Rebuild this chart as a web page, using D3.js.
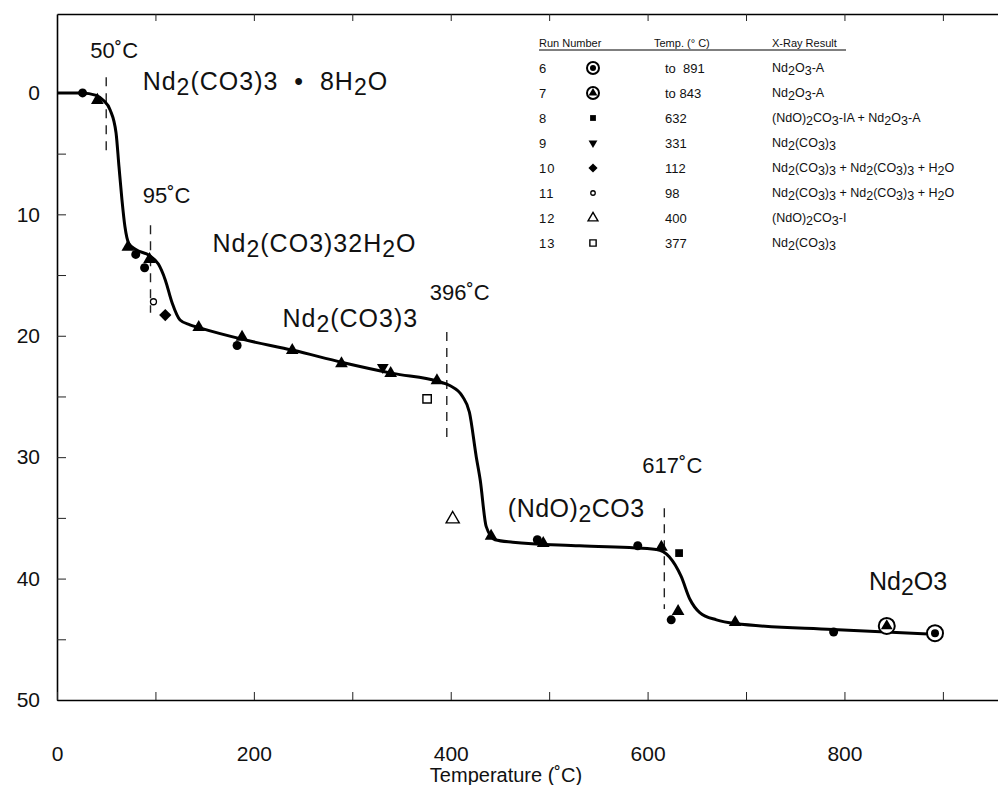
<!DOCTYPE html>
<html>
<head>
<meta charset="utf-8">
<script src="https://cdn.jsdelivr.net/npm/d3@7"></script>
<style>
  body { margin: 0; background: #fff; }
  svg text { font-family: "Liberation Sans", Arial, sans-serif; fill: #111; }
  .tick text { font-size: 21px; }
</style>
</head>
<body>
<svg></svg>
<script>
// weight loss vs temperature, Nd2(CO3)3 . 8H2O decomposition

const width = 998;
const height = 785;

// smooth curve through the readings
const curveTemp = [0, 25, 40, 47, 54, 60, 63, 66, 69, 73, 80, 94, 103, 110, 117, 125, 135, 145, 189, 240, 290, 341, 389, 399, 412, 419, 426, 430, 436, 445, 463, 531, 609, 622, 634, 643, 653, 670, 689, 788, 896];
const curveLoss = [0, 0, 0.2, 0.6, 1.4, 3.3, 6.1, 8.8, 11, 12.4, 12.9, 13.4, 14.1, 15.4, 17.3, 18.7, 19.1, 19.35, 20.3, 21.2, 22.2, 23.1, 23.8, 24.1, 25.0, 26.3, 30.0, 31.9, 35.7, 36.8, 37.0, 37.3, 37.6, 38.2, 39.8, 41.7, 42.8, 43.4, 43.7, 44.2, 44.6];

// measured points (continuous runs)
const circleTemp = [26, 80, 89, 183, 488, 590, 624, 789];
const circleLoss = [0, 13.3, 14.4, 20.8, 36.8, 37.3, 43.4, 44.4];
const triTemp = [41, 72, 94, 144, 188, 239, 289, 339, 386, 441, 494, 614, 631, 689];
const triLoss = [0.6, 12.7, 13.7, 19.3, 20.1, 21.2, 22.3, 23.1, 23.7, 36.5, 37.1, 37.4, 42.7, 43.6];

// legend runs
const runNumbers = ["6", "7", "8", "9", "10", "11", "12", "13"];
const runShapes = ["ringDot", "ringTri", "square", "downTri", "diamond", "openCircle", "openTri", "openSquare"];
const runTempText = ["to  891", "to 843", "632", "331", "112", "98", "400", "377"];
const runResults = [
  "Nd_2O_3-A",
  "Nd_2O_3-A",
  "(NdO)_2CO_3-IA + Nd_2O_3-A",
  "Nd_2(CO_3)_3",
  "Nd_2(CO_3)_3 + Nd_2(CO_3)_3 + H_2O",
  "Nd_2(CO_3)_3 + Nd_2(CO_3)_3 + H_2O",
  "(NdO)_2CO_3-I",
  "Nd_2(CO_3)_3"
];
const runTemp = [892, 843, 632, 331, 110, 98, 402, 376];
const runLoss = [44.5, 43.9, 37.9, 22.6, 18.3, 17.2, 35.1, 25.2];

// transitions
const transTemp = [50, 95, 396, 617];
const transLabels = ["50˚C", "95˚C", "396˚C", "617˚C"];
const transFrom = [-1.3, 10.9, 19.7, 34.2];
const transTo = [4.9, 18.1, 28.8, 42.5];

// phase labels
const phaseNames = ["Nd_2(CO3)3  •  8H_2O", "Nd_2(CO3)32H_2O", "Nd_2(CO3)3", "(NdO)_2CO3", "Nd_2O3"];
const phaseTemp = [87, 158, 229, 458, 825];
const phaseLoss = [-0.2, 13.1, 19.3, 34.9, 40.9];

const yTicks = [0, 10, 20, 30, 40, 50];
const xTicks = [0, 100, 200, 300, 400, 500, 600, 700, 800, 900];

const svg = d3.select("svg").attr("width", width).attr("height", height);

const x = d3.scaleLinear().domain([0, 956]).range([57, 998]);
const y = d3.scaleLinear().domain([-6.5, 50]).range([14, 700]);

// writes a formula, "_" lowers the next char
function formula(sel, str, sub, subSize) {
  let shift = 0;
  for (let i = 0; i < str.length; i++) {
    if (str[i] === "_") {
      i++;
      sel.append("tspan").attr("dy", sub - shift).style("font-size", subSize).text(str[i]);
      shift = sub;
    } else {
      const ts = sel.append("tspan").text(str[i]);
      if (shift) { ts.attr("dy", -shift); shift = 0; }
    }
  }
}

//ejes
const gy = svg.append("g")
  .attr("transform", `translate(${x(0)},0)`)
  .call(d3.axisLeft(y).tickValues(yTicks).tickSize(-9).tickSizeOuter(0).tickPadding(17));
svg.append("g")
  .attr("transform", `translate(${x(0)},0)`)
  .call(d3.axisLeft(y).tickValues([5, 15, 25, 35, 45]).tickSize(-9).tickFormat(""))
  .select(".domain").remove();
gy.select(".domain").attr("stroke-width", 1.6);

const gx = svg.append("g")
  .attr("transform", `translate(0,${y(50)})`)
  .call(d3.axisBottom(x).tickValues(xTicks).tickSize(-8).tickSizeOuter(0).tickPadding(46)
    .tickFormat(d => d % 200 === 0 ? d : ""));
gx.select(".domain").attr("stroke-width", 1.6);

svg.append("g")
  .attr("transform", `translate(0,${y(-6.5)})`)
  .call(d3.axisTop(x).tickValues(xTicks.slice(1)).tickSize(-7).tickSizeOuter(0).tickFormat(""))
  .select(".domain").attr("stroke-width", 1.6);

svg.selectAll(".tick line").attr("stroke", "#222");

svg.append("text")
  .attr("x", 506).attr("y", 782)
  .attr("text-anchor", "middle")
  .style("font-size", "20px")
  .text("Temperature (˚C)");

//lineas de transicion
transTemp.forEach((t, i) => {
  svg.append("line")
    .attr("x1", x(t)).attr("x2", x(t))
    .attr("y1", y(transFrom[i])).attr("y2", y(transTo[i]))
    .attr("stroke", "#222").attr("stroke-width", 1.4)
    .attr("stroke-dasharray", "9,7");
});
const labelDx = [8, 16, 13, 8];
const labelDy = [-19, -22, -32, -35];
transLabels.forEach((s, i) => {
  svg.append("text")
    .attr("x", x(transTemp[i]) + labelDx[i])
    .attr("y", y(transFrom[i]) + labelDy[i])
    .attr("text-anchor", "middle")
    .style("font-size", "22px")
    .text(s);
});

//curva
const line = d3.line()
  .x(d => x(d[0]))
  .y(d => y(d[1]))
  .curve(d3.curveMonotoneX);
svg.append("path")
  .datum(curveTemp.map((t, i) => [t, curveLoss[i]]))
  .attr("d", line)
  .attr("fill", "none")
  .attr("stroke", "#000")
  .attr("stroke-width", 3);

//puntos
svg.selectAll(".pc")
  .data(circleTemp.map((t, i) => [t, circleLoss[i]]))
  .join("circle")
  .attr("cx", d => x(d[0])).attr("cy", d => y(d[1]))
  .attr("r", 4.5).attr("fill", "#000");

const triSym = d3.symbol().type(d3.symbolTriangle).size(70);
svg.selectAll(".pt")
  .data(triTemp.map((t, i) => [t, triLoss[i]]))
  .join("path")
  .attr("transform", d => `translate(${x(d[0])},${y(d[1])})`)
  .attr("d", triSym).attr("fill", "#000");

function marker(g, shape, scale) {
  const s = scale || 1;
  if (shape === "ringDot") {
    g.append("circle").attr("r", 8 * s).attr("fill", "#fff").attr("stroke", "#000").attr("stroke-width", 2);
    g.append("circle").attr("r", 4 * s).attr("fill", "#000");
  } else if (shape === "ringTri") {
    g.append("circle").attr("r", 8 * s).attr("fill", "#fff").attr("stroke", "#000").attr("stroke-width", 2);
    g.append("path").attr("d", d3.symbol().type(d3.symbolTriangle).size(60 * s * s)()).attr("fill", "#000");
  } else if (shape === "square") {
    g.append("path").attr("d", d3.symbol().type(d3.symbolSquare).size(60 * s * s)()).attr("fill", "#000");
  } else if (shape === "downTri") {
    g.append("path").attr("transform", "rotate(180)")
      .attr("d", d3.symbol().type(d3.symbolTriangle).size(60 * s * s)()).attr("fill", "#000");
  } else if (shape === "diamond") {
    g.append("path").attr("transform", "rotate(45)")
      .attr("d", d3.symbol().type(d3.symbolSquare).size(75 * s * s)()).attr("fill", "#000");
  } else if (shape === "openCircle") {
    g.append("circle").attr("r", 3 * s).attr("fill", "#fff").attr("stroke", "#000").attr("stroke-width", 1.3);
  } else if (shape === "openTri") {
    g.append("path").attr("d", d3.symbol().type(d3.symbolTriangle).size(75 * s * s)())
      .attr("fill", "#fff").attr("stroke", "#000").attr("stroke-width", 1.4);
  } else if (shape === "openSquare") {
    g.append("path").attr("d", d3.symbol().type(d3.symbolSquare).size(70 * s * s)())
      .attr("fill", "#fff").attr("stroke", "#000").attr("stroke-width", 1.4);
  }
}

runTemp.forEach((t, i) => {
  const g = svg.append("g").attr("transform", `translate(${x(t)},${y(runLoss[i])})`);
  marker(g, runShapes[i]);
});

//etiquetas de fase
const phaseSpacing = ["1px", "1px", "1px", "0.5px", "0px"];
phaseNames.forEach((s, i) => {
  const t = svg.append("text")
    .attr("x", x(phaseTemp[i]))
    .attr("y", y(phaseLoss[i]))
    .attr("xml:space", "preserve")
    .style("white-space", "pre")
    .style("letter-spacing", phaseSpacing[i])
    .style("font-size", "25px");
  formula(t, s, 5, "23px");
});

//leyenda
const legX = [539, 593, 654, 772];
const legY0 = 43;
const rowH = 25;
const headers = ["Run Number", "Temp. (° C)", "X-Ray Result"];
[0, 2, 3].forEach((c, i) => {
  svg.append("text")
    .attr("x", legX[c]).attr("y", legY0 + 4)
    .style("font-size", "11px")
    .text(headers[i]);
});
svg.append("line")
  .attr("x1", legX[0]).attr("x2", 846)
  .attr("y1", legY0 + 7).attr("y2", legY0 + 7)
  .attr("stroke", "#000").attr("stroke-width", 1.2);

runNumbers.forEach((n, i) => {
  const yy = legY0 + rowH * (i + 1);
  svg.append("text").attr("x", legX[0]).attr("y", yy + 5)
    .style("font-size", "13px").style("letter-spacing", "1px").text(n);
  const g = svg.append("g").attr("transform", `translate(${legX[1]},${yy})`);
  marker(g, runShapes[i], 0.75);
  svg.append("text").attr("x", legX[2] + 11).attr("y", yy + 5)
    .style("font-size", "13px").style("white-space", "pre").attr("xml:space", "preserve")
    .text(runTempText[i]);
  const t = svg.append("text").attr("x", legX[3]).attr("y", yy + 4)
    .style("font-size", "12.5px");
  formula(t, runResults[i], 3, "12.5px");
});
</script>
</body>
</html>
